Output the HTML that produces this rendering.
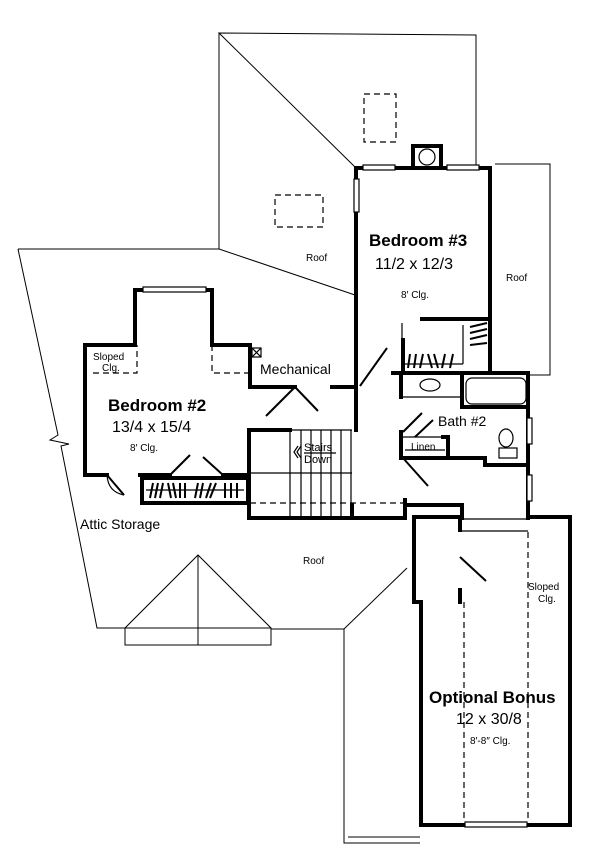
<!DOCTYPE html>
<html><head><meta charset="utf-8"><style>
html,body{margin:0;padding:0;background:#fff;}
svg{display:block;}
text{font-family:"Liberation Sans",sans-serif;fill:#000;}
</style></head><body>
<svg width="600" height="868" viewBox="0 0 600 868" xmlns="http://www.w3.org/2000/svg">
<g fill="none" stroke="#000" stroke-width="1">
<polyline points="355,167 219,33 476,35 476,165"/>
<line x1="219" y1="33" x2="219" y2="249"/>
<polyline points="18,249 219,249 355,295"/>
<polyline points="18,249 58,435 50,440 69,444 61,446 97,628 125,628"/>
<polyline points="125,628 198,555 271,628"/>
<rect x="125" y="628" width="146" height="17"/>
<line x1="198" y1="555" x2="198" y2="645"/>
<polyline points="271,629 344,629 407,568"/>
<polyline points="344,629 344,843 420,843"/>
<line x1="348" y1="837" x2="420" y2="837"/>
<polyline points="495,164 550,164 550,375 528,375"/>
</g>
<g fill="none" stroke="#000" stroke-width="1.2" stroke-dasharray="6,4">
<rect x="364" y="94" width="32" height="48"/>
<rect x="275" y="195" width="48" height="32"/>
<polyline points="93,373 137,373 137,345"/>
<polyline points="212,345 212,373 250,373"/>
<line x1="250" y1="503" x2="405" y2="503"/>
<line x1="464" y1="602" x2="464" y2="822"/>
<line x1="528" y1="532" x2="528" y2="822"/>
</g>
<g fill="none" stroke="#000" stroke-width="4" stroke-linecap="square">
<rect x="413" y="146" width="28" height="22"/>
<polyline points="356,430 356,168 490,168 490,373"/>
<polyline points="332,387 356,387 356,430"/>
<polyline points="107,475 85,475 85,345 135,345 135,290 212,290 212,345 250,345 250,387 295,387"/>
<line x1="140" y1="475" x2="170" y2="475"/>
<line x1="223" y1="475" x2="248" y2="475"/>
<rect x="142" y="478" width="106" height="25"/>
<polyline points="290,430 249,430 249,518 405,518 405,505 462,505 462,518"/>
<line x1="405" y1="500" x2="405" y2="518"/>
<polyline points="393,373 528,373 528,518"/>
<line x1="422" y1="319" x2="490" y2="319"/>
<line x1="403" y1="340" x2="403" y2="372"/>
<line x1="401" y1="373" x2="401" y2="397"/>
<polyline points="462,373 462,407 528,407"/>
<polyline points="401,432 401,458 485,458 485,465 528,465"/>
<polyline points="443,437 448,437 448,455"/>
<polyline points="460,517 414,517 414,602 421,602 421,825 570,825 570,517 528,517"/>
<line x1="460" y1="517" x2="460" y2="530"/>
<line x1="460" y1="590" x2="460" y2="602"/>
</g>
<g fill="none" stroke="#000" stroke-width="1.2">
<ellipse cx="427" cy="157" rx="8" ry="8"/>
<rect x="466" y="378" width="60" height="26" rx="6"/>
<ellipse cx="430" cy="385" rx="10" ry="6"/>
<ellipse cx="506" cy="438" rx="7" ry="9"/>
<rect x="499" y="448" width="18" height="10"/>
<line x1="403" y1="397" x2="461" y2="397"/>
<line x1="402" y1="437" x2="443" y2="437"/>
<line x1="405" y1="450" x2="445" y2="450"/>
<line x1="462" y1="519" x2="528" y2="519"/>
<line x1="462" y1="531" x2="528" y2="531"/>
<rect x="363" y="165" width="32" height="5" fill="#fff"/>
<rect x="447" y="165" width="32" height="5" fill="#fff"/>
<rect x="354" y="179" width="5" height="33" fill="#fff"/>
<rect x="143" y="287" width="63" height="5" fill="#fff"/>
<rect x="527" y="418" width="5" height="26" fill="#fff"/>
<rect x="527" y="475" width="5" height="26" fill="#fff"/>
<rect x="465" y="822" width="62" height="5" fill="#fff"/>
<line x1="290" y1="430" x2="352" y2="430"/>
<line x1="250" y1="473" x2="352" y2="473"/>
<line x1="290" y1="430" x2="290" y2="516"/>
<line x1="301" y1="430" x2="301" y2="516"/>
<line x1="311" y1="430" x2="311" y2="516"/>
<line x1="321" y1="430" x2="321" y2="516"/>
<line x1="331" y1="430" x2="331" y2="516"/>
<line x1="341" y1="430" x2="341" y2="516"/>
<line x1="351" y1="430" x2="351" y2="516"/>
<line x1="352" y1="503" x2="352" y2="518" stroke-width="4"/>
<polyline points="298,446 294,452 298,458"/>
<polyline points="301,446 297,452 301,458"/>
<line x1="304" y1="453" x2="336" y2="453"/>
<rect x="252" y="348" width="9" height="9"/>
<line x1="252" y1="348" x2="261" y2="357"/><line x1="261" y1="348" x2="252" y2="357"/>
<line x1="360" y1="386" x2="387" y2="348" stroke-width="2"/>
<line x1="295" y1="387" x2="266" y2="416" stroke-width="2"/>
<line x1="295" y1="387" x2="318" y2="411" stroke-width="2"/>
<line x1="170" y1="475" x2="190" y2="455" stroke-width="2"/>
<line x1="223" y1="475" x2="203" y2="457" stroke-width="2"/>
<line x1="107" y1="475" x2="124" y2="495" stroke-width="2"/>
<path d="M107,475 Q108,492 124,495"/>
<line x1="403" y1="432" x2="422" y2="413" stroke-width="2"/>
<line x1="415" y1="437" x2="433" y2="420" stroke-width="2"/>
<line x1="403" y1="458" x2="428" y2="486" stroke-width="2"/>
<line x1="460" y1="557" x2="486" y2="581" stroke-width="2"/>
<line x1="402" y1="323" x2="402" y2="362"/>
<line x1="146" y1="490" x2="244" y2="490"/>
<line x1="405" y1="364" x2="463" y2="364"/>
<line x1="463" y1="364" x2="463" y2="325"/>
</g>
<g stroke="#000" stroke-width="2">
<line x1="150" y1="498" x2="153" y2="483"/><line x1="155" y1="498" x2="158" y2="483"/><line x1="160" y1="498" x2="163" y2="483"/>
<line x1="168" y1="483" x2="171" y2="498"/><line x1="173" y1="483" x2="176" y2="498"/><line x1="180" y1="483" x2="180" y2="498"/><line x1="185" y1="483" x2="185" y2="498"/>
<line x1="195" y1="498" x2="198" y2="483"/><line x1="200" y1="498" x2="203" y2="483"/><line x1="206" y1="498" x2="211" y2="483"/><line x1="210" y1="498" x2="216" y2="483"/>
<line x1="225" y1="483" x2="225" y2="498"/><line x1="231" y1="483" x2="231" y2="498"/><line x1="237" y1="483" x2="237" y2="498"/>
<line x1="408" y1="368" x2="410" y2="354"/><line x1="414" y1="368" x2="416" y2="354"/><line x1="420" y1="368" x2="423" y2="354"/>
<line x1="428" y1="354" x2="432" y2="368"/><line x1="434" y1="354" x2="438" y2="368"/><line x1="442" y1="368" x2="445" y2="354"/><line x1="450" y1="368" x2="453" y2="354"/>
<line x1="470" y1="327" x2="487" y2="323"/><line x1="470" y1="333" x2="487" y2="329"/><line x1="470" y1="339" x2="487" y2="335"/><line x1="470" y1="345" x2="487" y2="343"/>
</g>
<text x="369" y="246" font-size="17" font-weight="bold">Bedroom #3</text>
<text x="375" y="269" font-size="16">11/2 x 12/3</text>
<text x="401" y="298" font-size="10">8′ Clg.</text>
<text x="306" y="261" font-size="10">Roof</text>
<text x="506" y="281" font-size="10">Roof</text>
<text x="93" y="360" font-size="10">Sloped</text>
<text x="102" y="371" font-size="10">Clg.</text>
<text x="260" y="374" font-size="14">Mechanical</text>
<text x="108" y="411" font-size="17" font-weight="bold">Bedroom #2</text>
<text x="112" y="432" font-size="16">13/4 x 15/4</text>
<text x="130" y="451" font-size="10">8′ Clg.</text>
<text x="304" y="451" font-size="11">Stairs</text>
<text x="304" y="463" font-size="11">Down</text>
<text x="438" y="426" font-size="14">Bath #2</text>
<text x="411" y="450" font-size="10">Linen</text>
<text x="80" y="529" font-size="14">Attic Storage</text>
<text x="303" y="564" font-size="10">Roof</text>
<text x="528" y="590" font-size="10">Sloped</text>
<text x="538" y="602" font-size="10">Clg.</text>
<text x="429" y="703" font-size="17" font-weight="bold">Optional Bonus</text>
<text x="456" y="724" font-size="16">12 x 30/8</text>
<text x="470" y="744" font-size="10">8′-8″ Clg.</text>
</svg>
</body></html>
